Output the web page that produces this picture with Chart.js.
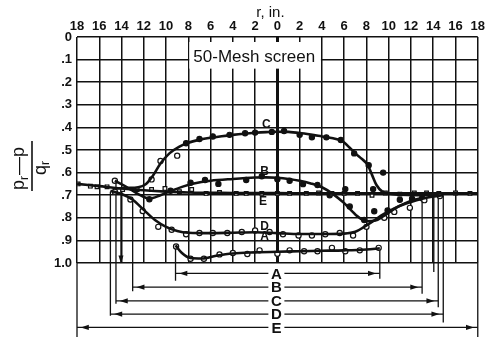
<!DOCTYPE html>
<html>
<head>
<meta charset="utf-8">
<title>Pressure distribution, 50-mesh screen</title>
<script src="https://cdn.jsdelivr.net/npm/chart.js"></script>
<style>
  html, body { margin: 0; padding: 0; background: #fff; }
  #wrap { width: 488px; height: 337px; position: relative; }
</style>
</head>
<body>
<div id="wrap"><canvas id="chart"></canvas></div>
<script>
// radius r (in.) along the top, both sides of the centre line
const xTicks = [-18, -16, -14, -12, -10, -8, -6, -4, -2, 0, 2, 4, 6, 8, 10, 12, 14, 16, 18];
const xTickLabels = ['18', '16', '14', '12', '10', '8', '6', '4', '2', '0', '2', '4', '6', '8', '10', '12', '14', '16', '18'];
const yTicks = [0, 0.1, 0.2, 0.3, 0.4, 0.5, 0.6, 0.7, 0.8, 0.9, 1.0];
const yTickLabels = ['0', '.1', '.2', '.3', '.4', '.5', '.6', '.7', '.8', '.9', '1.0'];

// measured points, (pr - p)/qr
const aPointR = [-9.1, -7.8, -6.6, -5.2, -4, -2.7, -1.6, 0, 1.1, 2.4, 3.6, 4.9, 6.1, 7.4, 9.1];
const aPointV = [0.927, 0.981, 0.981, 0.962, 0.956, 0.960, 0.944, 0.959, 0.944, 0.948, 0.948, 0.933, 0.948, 0.944, 0.933];
const bPointR = [-14.6, -11.5, -9.6, -7.8, -6.5, -5.3, -2.8, -1.4, 0, 1.1, 2.3, 3.6, 4.7, 6.1, 6.5, 7.8, 8.7, 9.9, 11, 12.1, 13];
const bPointV = [0.636, 0.718, 0.68, 0.645, 0.633, 0.65, 0.633, 0.616, 0.629, 0.636, 0.651, 0.655, 0.70, 0.673, 0.75, 0.81, 0.771, 0.767, 0.72, 0.715, 0.713];
const cPointR = [-11.3, -10.5, -9, -8.2, -7, -5.8, -4.3, -2.9, -2, -0.5, 0.6, 2, 3.1, 4.4, 5.7, 6.9, 8.2, 8.6, 9.5];
const cPointV = [0.63, 0.549, 0.525, 0.47, 0.451, 0.44, 0.433, 0.426, 0.423, 0.42, 0.416, 0.433, 0.444, 0.444, 0.456, 0.515, 0.567, 0.673, 0.60];
const dPointR = [-14.6, -13.2, -12.1, -10.7, -9.5, -8.2, -7, -5.8, -4.5, -3.2, -2, -0.7, 0.5, 1.9, 3.1, 4.3, 5.6, 6.8, 8, 9.6, 10.5, 11.9, 13.2, 14.6];
const dPointV = [0.685, 0.719, 0.77, 0.84, 0.853, 0.873, 0.867, 0.867, 0.867, 0.863, 0.856, 0.863, 0.873, 0.878, 0.878, 0.873, 0.867, 0.878, 0.84, 0.80, 0.774, 0.756, 0.722, 0.704];
const ePointR = [-17.9, -16.8, -16.2, -15.3, -13.9, -12.6, -11.3, -10.1, -8.8, -7.7, -6.4, -5.2, -3.7, -2.8, -1.4, 0, 1.1, 2.6, 3.7, 4.9, 6, 7.2, 8.5, 9.7, 11, 12.3, 13.4, 14.5, 16, 17.3];
const ePointV = [0.65, 0.66, 0.663, 0.663, 0.675, 0.675, 0.675, 0.67, 0.685, 0.675, 0.692, 0.688, 0.692, 0.692, 0.692, 0.692, 0.692, 0.692, 0.69, 0.692, 0.692, 0.692, 0.70, 0.69, 0.695, 0.69, 0.69, 0.692, 0.69, 0.692];

// faired curves through each run
const aCurveR = [-9.15, -8.6, -7.8, -6.8, -5.5, -4, -2, 0, 2, 4, 6, 8, 9.2];
const aCurveV = [0.922, 0.955, 0.978, 0.98, 0.968, 0.958, 0.953, 0.95, 0.948, 0.946, 0.944, 0.94, 0.935];
const bCurveR = [-14.6, -13.5, -12.5, -11.5, -10.5, -9.5, -8.5, -7.5, -6, -4, -2, -1, 0, 1, 2, 3, 4, 5, 6, 7, 8, 8.8, 9.6, 10.5, 11.5, 12.3, 13];
const bCurveV = [0.636, 0.665, 0.695, 0.715, 0.70, 0.68, 0.662, 0.648, 0.636, 0.628, 0.622, 0.621, 0.623, 0.628, 0.636, 0.648, 0.665, 0.695, 0.735, 0.785, 0.815, 0.812, 0.79, 0.76, 0.735, 0.72, 0.712];
const cCurveR = [-14.5, -13.5, -12.5, -11.8, -11.2, -10.5, -9.7, -8.8, -8, -7, -6, -5, -4, -3, -2, -1, 0, 1, 2, 3, 4, 5, 5.8, 6.5, 7, 7.6, 8.1, 8.5, 8.9, 9.4, 10, 11, 12.5, 14.45];
const cCurveV = [0.67, 0.668, 0.665, 0.65, 0.615, 0.56, 0.515, 0.485, 0.468, 0.455, 0.446, 0.439, 0.433, 0.428, 0.424, 0.421, 0.419, 0.42, 0.425, 0.432, 0.44, 0.448, 0.46, 0.49, 0.515, 0.54, 0.565, 0.61, 0.655, 0.683, 0.693, 0.698, 0.70, 0.70];
const dCurveR = [-15, -14, -13, -12, -11, -10, -9, -8, -6, -4, -2, 0, 2, 4, 6, 7, 7.8, 8.6, 9.5, 10.5, 11.5, 12.5, 13.5, 14.9];
const dCurveV = [0.68, 0.695, 0.72, 0.765, 0.81, 0.84, 0.858, 0.866, 0.868, 0.866, 0.864, 0.868, 0.872, 0.872, 0.87, 0.862, 0.84, 0.815, 0.785, 0.758, 0.738, 0.722, 0.71, 0.70];
const eCurveR = [-18, -16, -14, -12, -10, -8, -4, 0, 4, 8, 12, 18];
const eCurveV = [0.65, 0.66, 0.67, 0.678, 0.684, 0.688, 0.69, 0.691, 0.692, 0.692, 0.692, 0.692];

// curve letters
const curveNames = ['C', 'B', 'E', 'D', 'A'];
const curveLabelR = [-1, -1.15, -1.3, -1.15, -1.15];
const curveLabelV = [0.39, 0.596, 0.73, 0.84, 0.882];

// traverse spans drawn below the grid
const spanNames = ['A', 'B', 'C', 'D', 'E'];
const spanFrom = [-9.15, -13, -14.5, -15, -18];
const spanTo = [9.2, 13, 14.45, 14.9, 18];
const spanLevel = [1.046, 1.107, 1.168, 1.226, 1.285];

// leader lines from the curves down to the spans
const leaderR = [-18, -15, -14.5, -14.05, -13, -9.15, 9.2, 13, 14.05, 14.45, 14.9, 18];
const leaderTop = [1.0, 0.685, 0.638, 0.675, 0.713, 0.922, 0.933, 0.722, 0.70, 0.70, 0.70, 1.0];
const leaderBottom = [1.33, 1.233, 1.18, 1.0, 1.125, 1.078, 1.07, 1.136, 1.04, 1.196, 1.263, 1.33];

const INK = '#111';
const FONT = '"Liberation Sans", Arial, sans-serif';
const zip = (rs, vs) => rs.map((r, i) => ({ x: r, y: vs[i] }));

function curve(rs, vs) {
  return {
    data: zip(rs, vs), showLine: true, borderColor: INK, borderWidth: 2.6,
    pointRadius: 0, tension: 0.4, cubicInterpolationMode: 'monotone', clip: false
  };
}
function marks(rs, vs, style, filled) {
  return {
    data: zip(rs, vs), showLine: false, pointStyle: style, pointRadius: 2.6,
    pointBorderColor: INK, pointBorderWidth: 1.2,
    pointBackgroundColor: filled ? INK : '#fff'
  };
}
function rule(x0, y0, x1, y1, w) {
  return {
    data: [{ x: x0, y: y0 }, { x: x1, y: y1 }], showLine: true,
    borderColor: INK, borderWidth: w || 1.3, pointRadius: 0, clip: false
  };
}

const datasets = [
  curve(aCurveR, aCurveV), curve(bCurveR, bCurveV), curve(cCurveR, cCurveV),
  curve(dCurveR, dCurveV), curve(eCurveR, eCurveV),
  marks(aPointR, aPointV, 'circle', false),
  marks(dPointR, dPointV, 'circle', false),
  marks(ePointR, ePointV, 'rect', false),
  marks(ePointR, ePointV, 'crossRot', false),
  marks(cPointR, cPointV, 'circle', true),
  marks(bPointR, bPointV, 'circle', true)
];
// open symbols on the first points of run C and run B
datasets[9].pointBackgroundColor = cPointR.map((r, i) => i < 3 ? '#fff' : INK);
datasets[10].pointBackgroundColor = bPointR.map((r, i) => i === 0 ? '#fff' : INK);

spanNames.forEach((n, i) => datasets.push(rule(spanFrom[i], spanLevel[i], spanTo[i], spanLevel[i])));
leaderR.forEach((r, i) => datasets.push(rule(r, leaderTop[i], r, leaderBottom[i])));

// filled arrowhead at (px, py) pointing along dir (+1 right, -1 left, 2 down)
function arrowHead(ctx, px, py, dir) {
  ctx.beginPath();
  if (dir === 2) {
    ctx.moveTo(px, py + 4); ctx.lineTo(px - 2.5, py - 4); ctx.lineTo(px + 2.5, py - 4);
  } else {
    ctx.moveTo(px + 4 * dir, py); ctx.lineTo(px - 4 * dir, py - 2.6); ctx.lineTo(px - 4 * dir, py + 2.6);
  }
  ctx.closePath();
  ctx.fill();
}

const decor = {
  id: 'decor',
  beforeDatasetsDraw(chart) {
    const { ctx, scales: { x, y } } = chart;
    // panel carrying the screen note
    const left = x.getPixelForValue(-8) + 1, right = x.getPixelForValue(4) - 1;
    const top = y.getPixelForValue(0) + 5, bottom = y.getPixelForValue(0.14);
    ctx.save();
    ctx.fillStyle = '#fff';
    ctx.fillRect(left, top, right - left, bottom - top);
    ctx.fillStyle = INK;
    ctx.font = '17px ' + FONT;
    ctx.textAlign = 'left';
    ctx.textBaseline = 'alphabetic';
    ctx.fillText('50-Mesh screen', left + 4, y.getPixelForValue(0.135) - 6);
    ctx.restore();
  },
  afterDatasetsDraw(chart) {
    const { ctx, scales: { x, y }, chartArea } = chart;
    ctx.save();
    ctx.fillStyle = INK;
    ctx.textAlign = 'center';
    ctx.textBaseline = 'middle';

    // arrowheads just inside the ends of every span, and on the short leader
    spanNames.forEach((n, i) => {
      const py = y.getPixelForValue(spanLevel[i]);
      arrowHead(ctx, x.getPixelForValue(spanFrom[i] + 0.7), py, -1);
      arrowHead(ctx, x.getPixelForValue(spanTo[i] - 0.7), py, 1);
    });
    arrowHead(ctx, x.getPixelForValue(-14.05), y.getPixelForValue(0.985), 2);

    // span letters sit in a gap on each rule
    ctx.font = 'bold 15px ' + FONT;
    spanNames.forEach((n, i) => {
      const px = x.getPixelForValue(0) - 1, py = y.getPixelForValue(spanLevel[i]);
      ctx.fillStyle = '#fff';
      ctx.fillRect(px - 8, py - 7, 16, 14);
      ctx.fillStyle = INK;
      ctx.fillText(n, px, py + 1);
    });

    // curve letters
    ctx.font = 'bold 12px ' + FONT;
    curveNames.forEach((n, i) => {
      ctx.fillText(n, x.getPixelForValue(curveLabelR[i]), y.getPixelForValue(curveLabelV[i]));
    });

    // axis titles
    ctx.font = '15px ' + FONT;
    ctx.fillText('r, in.', (chartArea.left + chartArea.right) / 2 - 7, 13);

    ctx.translate(32, 166);
    ctx.rotate(-Math.PI / 2);
    ctx.strokeStyle = INK;
    ctx.lineWidth = 1.6;
    ctx.beginPath();
    ctx.moveTo(-25, 0);
    ctx.lineTo(25, 0);
    ctx.stroke();
    ctx.textAlign = 'left';
    ctx.textBaseline = 'alphabetic';
    ctx.font = '18px ' + FONT;
    ctx.fillText('p', -24, -8);
    ctx.font = '12px ' + FONT;
    ctx.fillText('r', -14, -4);
    ctx.font = '18px ' + FONT;
    ctx.fillText('\u2014p', -9, -8);
    ctx.fillText('q', -9, 14);
    ctx.font = '12px ' + FONT;
    ctx.fillText('r', 1, 17);
    ctx.restore();
  }
};

const tickFont = { family: FONT, size: 13, weight: 'bold' };

new Chart(document.getElementById('chart'), {
  type: 'scatter',
  data: { datasets },
  options: {
    responsive: true,
    maintainAspectRatio: false,
    animation: false,
    events: [],
    layout: { padding: { left: 0, top: 0, right: 9, bottom: 74 } },
    plugins: { legend: { display: false }, tooltip: { enabled: false } },
    scales: {
      x: {
        type: 'linear', position: 'top', min: -18, max: 18,
        afterBuildTicks: s => { s.ticks = xTicks.map(v => ({ value: v })); },
        afterFit: s => { s.height = 37; },
        ticks: { callback: (v, i) => xTickLabels[i], font: tickFont, color: INK, padding: 3, maxRotation: 0, autoSkip: false },
        grid: { color: INK, lineWidth: c => (c.tick && c.tick.value === 0 ? 3 : 1.5), drawTicks: false },
        border: { display: false }
      },
      y: {
        type: 'linear', reverse: true, min: 0, max: 1,
        afterBuildTicks: s => { s.ticks = yTicks.map(v => ({ value: v })); },
        afterFit: s => { s.width = 77; },
        ticks: { callback: (v, i) => yTickLabels[i], font: tickFont, color: INK, padding: 5, autoSkip: false },
        grid: { color: INK, lineWidth: 1.5, drawTicks: false },
        border: { display: false }
      }
    }
  },
  plugins: [decor]
});
</script>
</body>
</html>
